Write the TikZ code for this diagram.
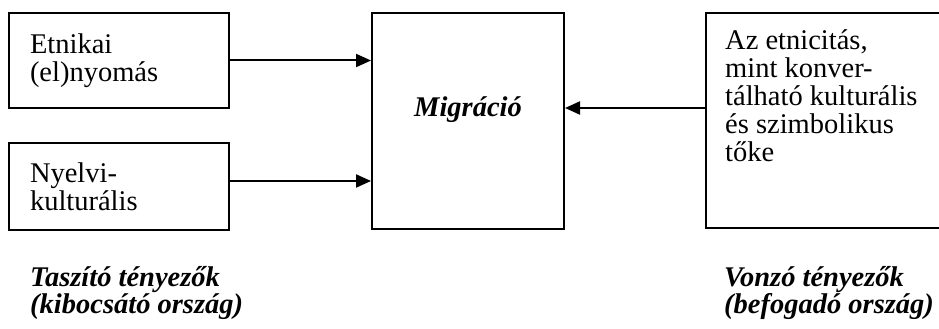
\documentclass[tikz,border=0pt]{standalone}
\usepackage{fontspec}
\setmainfont{Liberation Serif}
\usetikzlibrary{positioning}
\usetikzlibrary{arrows.meta}

\begin{document}
\begin{tikzpicture}[x=1pt,y=-1pt,node distance=33pt,
doboz/.style={draw,line width=2pt,inner sep=0pt},
bal/.style={doboz,text width=178pt,align=left,inner xsep=21pt},
szoveg/.style={font=\fontsize{28.5}{28}\selectfont},
cim/.style={font=\fontsize{28.5}{25}\selectfont\bfseries\itshape,align=left},
nyil/.style={line width=2pt,-{Triangle[length=15pt,width=13pt]}}
]
\useasboundingbox (0,0) rectangle (939,329);
\clip (0,0) rectangle (939,329);
%--
\node[bal,szoveg,minimum height=95pt,anchor=north west] (etnikai) at (8,12) {Etnikai\\(el)nyomás};
\node[bal,szoveg,minimum height=87pt,below=of etnikai] (nyelvi) {Nyelvi-\\kulturális};
%--
\node[doboz,minimum width=192pt,minimum height=216pt,right=141pt of etnikai.north east,anchor=north west] (migracio) {};
\node[cim,anchor=base] (migszoveg) at ([yshift=5pt]migracio.center) {Migráció};
%--
\node[doboz,minimum width=260pt,minimum height=215pt,right=140pt of migracio.north east,anchor=north west] (konv) {};
\node[szoveg,align=left,inner sep=0pt,anchor=north west] (konvszoveg) at ([xshift=20pt,yshift=-17pt]konv.north west) {Az etnicitás,\\mint konver-\\tálható kulturális\\és szimbolikus\\tőke};
%--
\draw[nyil] (etnikai.east) -- (etnikai.east -| migracio.west);
\draw[nyil] ([yshift=-60pt]migracio.west -| nyelvi.east) -- ([yshift=-60pt]migracio.west);
\draw[nyil] ([yshift=13pt]migracio.east -| konv.west) -- ([yshift=13pt]migracio.east);
%--
\node[cim,anchor=north west,inner sep=0pt] (taszito) at ([xshift=22pt,yshift=-35pt]nyelvi.south west) {Taszító tényezők\\(kibocsátó ország)};
\node[cim,anchor=north west,inner sep=0pt] (vonzo) at ([xshift=19pt,yshift=-37pt]konv.south west) {Vonzó tényezők\\(befogadó ország)};
\end{tikzpicture}
\end{document}
